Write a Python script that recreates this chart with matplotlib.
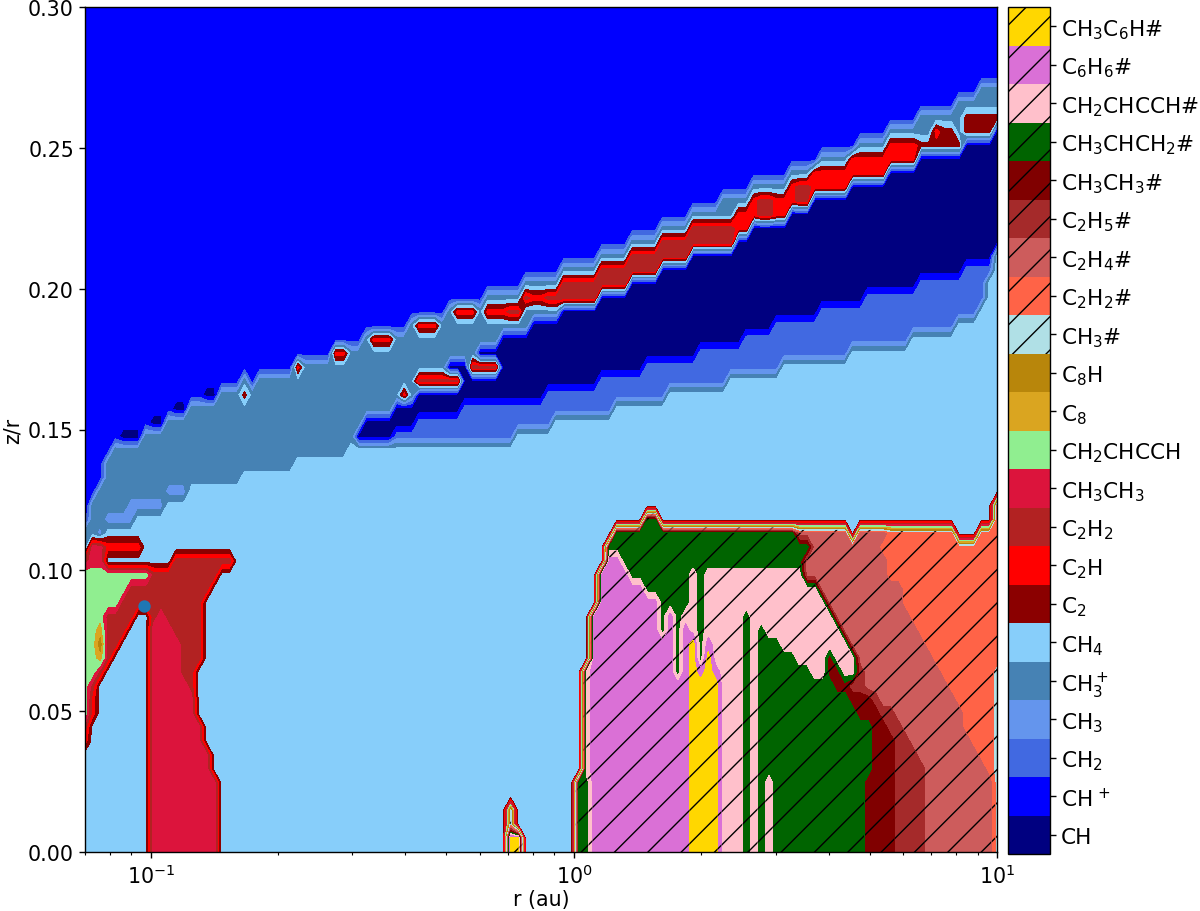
import numpy as np
import matplotlib
matplotlib.use('Agg')
import matplotlib.pyplot as plt

plt.rcParams['hatch.linewidth'] = 0.5
plt.rcParams['font.size'] = 7.4
plt.rcParams['axes.linewidth'] = 0.5
for a in ['xtick', 'ytick']:
    plt.rcParams[a + '.major.size'] = 2.0
    plt.rcParams[a + '.minor.size'] = 1.2
    plt.rcParams[a + '.major.width'] = 0.5
    plt.rcParams[a + '.minor.width'] = 0.4
    plt.rcParams[a + '.major.pad'] = 2.0

# species, bottom to top of the colorbar
codes = 'abcdefghijklmnopqrstuv'
labels = ['CH', r'CH$^{\,+}$', 'CH$_2$', 'CH$_3$', 'CH$_3^+$', 'CH$_4$', 'C$_2$', 'C$_2$H', 'C$_2$H$_2$',
          'CH$_3$CH$_3$', 'CH$_2$CHCCH', 'C$_8$', 'C$_8$H', 'CH$_3$#', 'C$_2$H$_2$#', 'C$_2$H$_4$#',
          'C$_2$H$_5$#', 'CH$_3$CH$_3$#', 'CH$_3$CHCH$_2$#', 'CH$_2$CHCCH#', 'C$_6$H$_6$#', 'CH$_3$C$_6$H#']
colors = ['navy', 'blue', 'royalblue', 'cornflowerblue', 'steelblue', 'lightskyblue', 'darkred', 'red',
          'firebrick', 'crimson', 'lightgreen', 'goldenrod', 'darkgoldenrod', 'powderblue', 'tomato',
          'indianred', 'brown', 'maroon', 'darkgreen', 'pink', 'orchid', 'gold']
hatches = [None] * 13 + ['//'] * 9

n_r = 121
n_z = 62

# dominant species, as steps: from column x the row is y
top_cols = [0, 1, 2, 3, 4, 8, 11, 14, 18, 21, 22, 23, 28, 33, 37, 43, 48, 53, 58, 63, 68, 72, 76, 80, 84, 88, 93, 97, 102, 106, 110, 115, 118]
top_rows = [23, 25, 26, 28, 29, 30, 31, 32, 33, 34, 33, 34, 35, 36, 37, 38, 39, 40, 41, 42, 43, 44, 45, 46, 47, 48, 49, 50, 51, 52, 53, 54, 55]

ch4_cols = [0, 1, 3, 7, 10, 14, 21, 28, 35, 57, 62, 70, 77, 85, 92, 101, 109, 115, 118, 119, 120]
ch4_rows = [21, 22, 23, 24, 25, 26, 27, 28, 29, 30, 31, 32, 33, 34, 35, 36, 37, 38, 39, 41, 43]

navy_bot_cols = [36, 41, 44, 50, 61, 68, 74, 81, 87, 91, 97, 103, 110, 116, 120]
navy_bot_rows = [30, 31, 32, 33, 34, 35, 36, 37, 38, 39, 40, 41, 42, 43, 44]
navy_top_cols = [36, 37, 41, 44, 48, 52, 55, 59, 63, 66, 70, 75, 78, 82, 86, 91, 96, 99, 104, 109, 116, 120]
navy_top_rows = [30, 31, 32, 33, 35, 36, 37, 38, 39, 40, 41, 42, 43, 44, 45, 46, 47, 48, 49, 50, 51, 52]

ridge_cols = [53, 56, 58, 59, 61, 63, 68, 72, 76, 80, 86, 88, 89, 91, 93, 94, 96, 101, 106, 110, 112, 115, 116, 120]
ridge_top = [39, 39, 40, 40, 40, 41, 42, 43, 44, 45, 46, 47, 47, 47, 48, 48, 49, 50, 51, 51, 52, 51, 53, 53]
ridge_bot = [39, 39, 40, 40, 40, 40, 41, 42, 43, 44, 45, 46, 46, 46, 47, 47, 48, 49, 50, 51, 51, 51, 52, 53]
ridge_kind = 'hiihiiiiiihhihhihhhgggggg'[:24]

# single cells and short runs: (row, first column, last column, species)
spots = [(33, 21, 21, 'g'), (35, 28, 28, 'h'), (36, 33, 34, 'h'), (37, 38, 40, 'h'), (38, 44, 46, 'h'),
         (39, 49, 51, 'h'), (33, 42, 42, 'h'), (34, 44, 49, 'i'), (35, 51, 54, 'i'), (52, 112, 112, 'h'),
         (30, 5, 7, 'a'), (31, 9, 10, 'a'), (32, 12, 13, 'a'), (33, 16, 17, 'a'), (25, 0, 0, 'a'),
         (26, 11, 13, 'd'), (25, 6, 10, 'd'), (24, 3, 6, 'd'), (23, 2, 2, 'd'),
         (0, 56, 56, 'v'), (1, 56, 56, 'v'), (2, 56, 56, 'n'), (3, 56, 56, 'n'),
         (0, 57, 57, 'v'), (1, 57, 57, 'v')]

# lower left structure, one string per row from column 0
left_rows = {
    22: 'ejjhhhhhffffffffffff', 21: 'ijjfffffffffiiiiiiiif', 20: 'kkkkkkkkkiiiiiiiiiff',
    19: 'kkkkkkiiiiiiiiiiifff', 18: 'kkkkkiiiiiiiiiiiffff', 17: 'kkkiiiiffijiiiiiffff',
    16: 'kkliiifffjjjiiiiffff', 15: 'kkmiiffffjjjjiiiffff', 14: 'kklifffffjjjjiiiffff',
    13: 'kkiffffffjjjjiifffff', 12: 'kifffffffjjjjjifffff', 11: 'khfffffffjjjjjjfffff',
    10: 'khfffffffjjjjjjfffff', 9: 'iffffffffjjjjjjjffff', 8: 'hffffffffjjjjjjjffff',
    7: 'fffffffffjjjjjjjjfff', 6: 'fffffffffjjjjjjjjfff', 5: 'fffffffffjjjjjjjjjff',
    4: 'fffffffffjjjjjjjjjff', 3: 'fffffffffjjjjjjjjjff', 2: 'fffffffffjjjjjjjjjff',
    1: 'fffffffffjjjjjjjjjff', 0: 'fffffffffjjjjjjjjjff'}

# lower right structure: species and the last column it reaches, starting at column 60
right_rows = {
    25: 'f119 o120', 24: 'f73 s75 f119 o120',
    23: 'f69 s93 p100 f101 p105 o114 f117 o120',
    22: 'f68 s95 p104 o120',
    21: 'f68 u70 s94 p105 o120',
    20: 'f67 u71 s79 t80 s81 t94 p105 o120',
    19: 'f67 u73 s79 t80 s81 t96 p107 o120',
    18: 'f67 u75 s79 t80 s81 t97 p107 o120',
    17: 'f66 u75 s76 u77 s78 t80 s81 t86 s87 t98 p108 o120',
    16: 'f66 u75 s76 u77 s78 u79 t80 s81 t86 s87 t88 s89 t99 p109 o120',
    15: 'f66 u77 s78 u79 v80 s81 u82 t86 s87 t88 s91 t100 p110 o120',
    14: 'f66 u77 s78 u79 v80 s81 v82 t86 s87 t88 s93 t97 r98 t101 p111 o120',
    13: 'f65 t66 u77 s78 u79 v80 u81 v82 u83 t86 s87 t88 s95 t97 r99 t101 q102 p112 o119 n120',
    12: 'f65 t66 u79 v83 t86 s87 t88 s98 r100 q102 p113 o119 n120',
    11: 'f65 t66 u79 v83 t86 s87 t88 s100 r103 q104 p114 o119 n120',
    10: 'f65 t66 u79 v83 t86 s87 t88 s101 r104 q106 p115 o119 n120',
    9: 'f65 t66 u79 v83 t86 s87 t88 s103 r105 q107 p115 o119 n120',
    8: 'f65 t66 u79 v83 t86 s87 t88 s103 r106 q108 p116 o119 n120',
    7: 'f65 t66 u79 v83 t86 s87 t88 s103 r106 q109 p117 o119 n120',
    6: 'f65 t66 u79 v83 t86 s87 t88 s103 r106 q110 p118 o119 n120',
    5: 'f64 s66 u79 v83 t86 s87 t88 s89 t90 s102 r106 q110 p119 n120',
    4: 'f64 s66 u79 v83 t86 s87 t88 s89 t90 s102 r106 q110 p119 n120',
    3: 'f64 s66 u79 v83 t86 s87 t88 s89 t90 s102 r106 q110 p119 n120',
    2: 'f64 s66 u79 v83 t86 s87 t88 s89 t90 s102 r106 q110 p119 n120',
    1: 'f64 s66 u79 v83 t86 s87 t88 s89 t90 s102 r106 q110 p119 n120',
    0: 'f64 s66 u79 v83 t86 s87 t88 s89 t90 s102 r106 q110 p119 n120'}

point_r = [0.0965]
point_z = [0.0873]


def step(cols, rows, c):
    return rows[np.searchsorted(cols, c, side='right') - 1]


idx = {k: i for i, k in enumerate(codes)}
grid = np.full((n_z, n_r), idx['b'], dtype=float)

for c in range(n_r):
    grid[:step(top_cols, top_rows, c) + 1, c] = idx['e']
    sky = step(ch4_cols, ch4_rows, c)
    if c >= 36:
        bot = step(navy_bot_cols, navy_bot_rows, c)
        up = step(navy_top_cols, navy_top_rows, c)
        grid[sky + 1:bot, c] = idx['c']
        grid[bot:up + 1, c] = idx['a']
    grid[:sky + 1, c] = idx['f']
    if c >= ridge_cols[0]:
        k = np.searchsorted(ridge_cols, c, side='right') - 1
        grid[ridge_bot[k]:ridge_top[k] + 1, c] = idx[ridge_kind[k]]

for row, c0, c1, kind in spots:
    grid[row, c0:c1 + 1] = idx[kind]

for row, s in left_rows.items():
    for c, kind in enumerate(s):
        grid[row, c] = idx[kind]

for row, s in right_rows.items():
    c0 = 60
    for part in s.split():
        c1 = int(part[1:])
        grid[row, c0:c1 + 1] = idx[part[0]]
        c0 = c1 + 1

r = np.logspace(np.log10(0.07), 1, n_r)
z = np.linspace(0, 0.30, n_z)

fig = plt.figure(figsize=(6, 4.56), dpi=200)
ax = fig.add_axes([85 / 1200, 1 - 853 / 912, 912 / 1200, 845 / 912])
cax = fig.add_axes([1008 / 1200, 1 - 855 / 912, 42 / 1200, 847 / 912])

levels = np.arange(-0.5, 22, 1)
cs = ax.contourf(r, z, grid, levels=levels, colors=colors, hatches=hatches)
ax.scatter(point_r, point_z, s=12, color='tab:blue', zorder=5)
ax.set_xscale('log')
ax.set_xlim(0.07, 10)
ax.set_ylim(0, 0.30)
ax.set_yticks([0, 0.05, 0.10, 0.15, 0.20, 0.25, 0.30])
ax.set_xlabel('r (au)', labelpad=1)
ax.set_ylabel('z/r', labelpad=2)

cb = fig.colorbar(cs, cax=cax, ticks=np.arange(22))
cb.ax.set_yticklabels(labels, fontsize=7.8)
cb.ax.minorticks_off()

plt.savefig('out.png', dpi=200)
